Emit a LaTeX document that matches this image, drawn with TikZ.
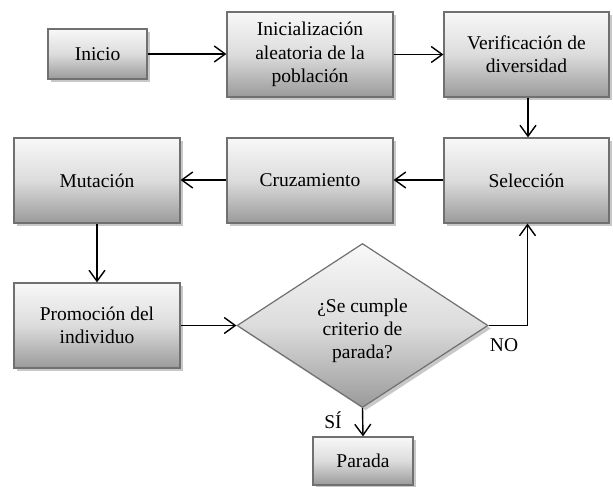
\documentclass[tikz,border=0pt]{standalone}
\usepackage{fontspec}
\setmainfont{Liberation Serif}
\newfontfamily\diagfont{Liberation Serif}
\usetikzlibrary{shapes.geometric,arrows.meta,shadows}
\definecolor{boxtop}{HTML}{F8F8F8}
\definecolor{boxmid}{HTML}{DCDCDC}
\definecolor{boxbot}{HTML}{9A9A9A}
\definecolor{boxline}{HTML}{707070}
\definecolor{shadowc}{HTML}{C8C8C8}
\tikzset{
  procbox/.style={draw=boxline, line width=1.2pt, top color=boxtop, bottom color=boxbot, middle color=boxmid,
    drop shadow={shadow xshift=3pt, shadow yshift=-3pt, fill=shadowc, opacity=1},
    align=center, inner sep=0pt, font=\diagfont\fontsize{19.5}{23.3}\selectfont},
  decbox/.style={diamond, draw=boxline, line width=1.2pt, top color=boxtop, bottom color=boxbot, middle color=boxmid,
    drop shadow={shadow xshift=3pt, shadow yshift=-3pt, fill=shadowc, opacity=1},
    inner sep=0pt},
  txt/.style={align=center, inner sep=0pt, font=\diagfont\fontsize{19.5}{23.3}\selectfont},
  flow/.style={line width=1.4pt, -{Straight Barb[length=11pt,width=16pt,line width=1.4pt]}},
  plain/.style={line width=1.4pt}
}
\begin{document}
\begin{tikzpicture}[x=1pt,y=-1pt]
\useasboundingbox (0,0) rectangle (613,487);
\node[procbox, minimum width=99pt, minimum height=50pt] (inicio) at (97.5,54) {Inicio};
\node[procbox, minimum width=166pt, minimum height=85pt] (init) at (310,54.5) {Inicialización\\aleatoria de la\\población};
\node[procbox, minimum width=165pt, minimum height=85pt] (verif) at (526.5,54.5) {Verificación de\\diversidad};
\node[procbox, minimum width=166pt, minimum height=85pt] (mut) at (97,180.5) {Mutación};
\node[procbox, minimum width=166pt, minimum height=85pt] (cruz) at (310,180.5) {Cruzamiento};
\node[procbox, minimum width=165pt, minimum height=85pt] (sel) at (526.5,180.5) {Selección};
\node[procbox, minimum width=166pt, minimum height=85pt] (prom) at (97,325.5) {Promoción del\\individuo};
\node[decbox, minimum width=251pt, minimum height=164pt] (dec) at (362.5,325.5) {};
\node[txt] (dectext) at (362.5,331) {¿Se cumple\\criterio de\\parada?};
\node[procbox, minimum width=100pt, minimum height=48pt] (parada) at (363,461) {Parada};
\node[txt] (no) at (504,345) {NO};
\node[txt] (si) at (333,420) {SÍ};
\coordinate (turn) at (527.5,325.5);
\draw[flow] (inicio.east) -- (inicio.east -| init.west);
\draw[flow] (init.east) -- (init.east -| verif.west);
\draw[flow] ([xshift=1.5pt]verif.south) -- ([xshift=1.5pt]sel.north);
\draw[flow] ([yshift=0.5pt]sel.west) -- ([yshift=0.5pt]cruz.east);
\draw[flow] ([yshift=0.5pt]cruz.west) -- ([yshift=0.5pt]mut.east);
\draw[flow] (mut.south) -- (prom.north);
\draw[flow] (prom.east) -- (dec.west);
\draw[plain] (dec.east) -- (turn);
\draw[flow] (turn) -- (turn |- sel.south);
\draw[flow] (dec.south) -- (parada.north);
\end{tikzpicture}
\end{document}
